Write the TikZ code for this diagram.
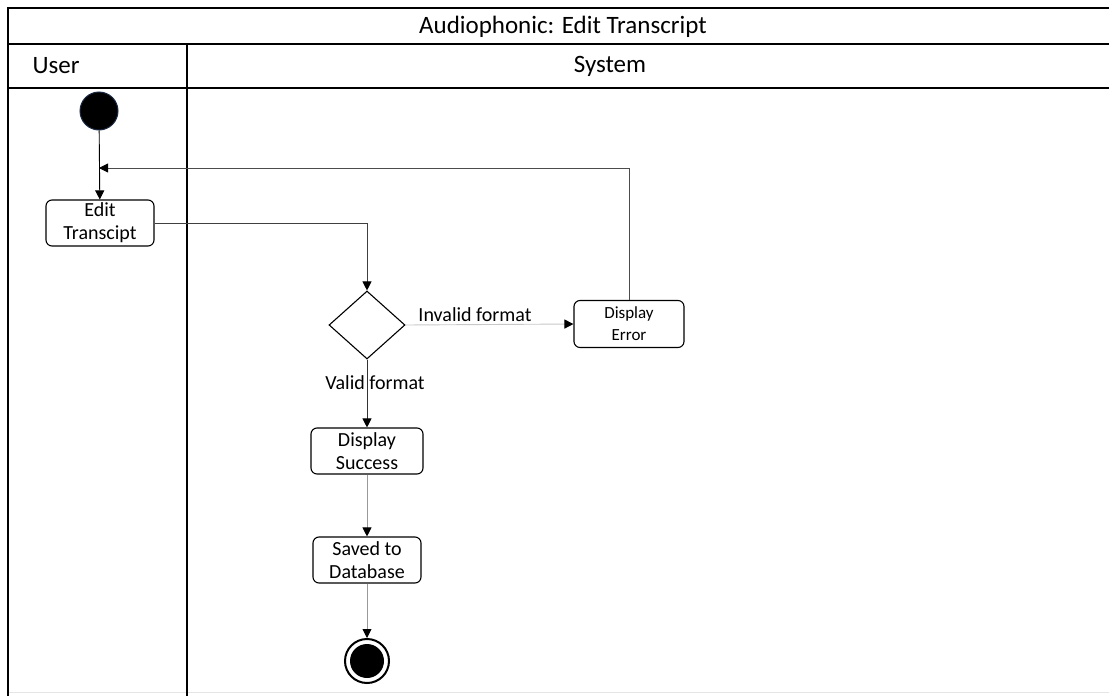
\documentclass[tikz,border=0pt]{standalone}
\usepackage{fontspec}
\setmainfont{Carlito}
\usetikzlibrary{arrows.meta,shapes.geometric}

\definecolor{startedge}{HTML}{1B2A44}

\tikzset{
  laneline/.style={line width=2.8pt, black},
  action/.style={draw, line width=1.1pt, rounded corners=6pt, align=center,
    inner sep=0pt, font=\fontsize{20}{23}\selectfont},
  decision/.style={draw, diamond, line width=1.1pt, minimum width=76pt,
    minimum height=68pt, inner sep=0pt},
  flow/.style={line width=0.9pt,
    -{Triangle[length=9pt,width=9pt,color=black]}},
  lbl/.style={font=\fontsize{20}{23}\selectfont, inner sep=0pt},
  hdr/.style={font=\fontsize{25}{28}\selectfont, inner sep=0pt},
}

\begin{document}
\begin{tikzpicture}[x=1pt, y=-1pt]
  \useasboundingbox (0,0) rectangle (1109,696);

  % swimlane frame
  \draw[black!10, line width=0.8pt] (8,692) -- (1112,692);
  \draw[laneline] (1112,8) -- (8,8) -- (8,696);
  \draw[laneline] (8,44) -- (1112,44);
  \draw[laneline] (8,88) -- (1112,88);
  \draw[laneline] (187,44) -- (187,696);

  % headers
  \node[hdr] (title) at (563,27) {Audiophonic: Edit Transcript};
  \node[hdr] (user) at (56,66) {User};
  \node[hdr] (system) at (610,66) {System};

  % activity nodes
  \node[circle, fill=black, draw=startedge, line width=1pt,
        minimum size=38pt, inner sep=0pt] (start) at (99,111) {};
  \node[action, minimum width=108pt, minimum height=46pt] (edit) at (100,223)
       {Edit\\Transcipt};
  \node[decision] (dec) at (367,325) {};
  \node[action, minimum width=110pt, minimum height=47pt,
        font=\fontsize{17}{22}\selectfont] (err) at (629,324) {Display\\Error};
  \node[action, minimum width=112pt, minimum height=46pt] (succ) at (367,451)
       {Display\\Success};
  \node[action, minimum width=108pt, minimum height=46pt] (saved) at (367,560)
       {Saved to\\Database};
  \node[circle, draw=black, fill=white, line width=2pt,
        minimum size=44pt, inner sep=0pt] (end) at (367,661) {};
  \fill[black] (end.center) circle (17pt);

  \coordinate (loop) at (99,168);

  % control flow
  \draw[flow, black] (start) -- (edit);
  \draw[flow, black!70] (err.north) |- (loop);
  \draw[flow, black!75] (edit.east) -| (dec.north);
  \draw[flow, black!22] (dec.east) -- (err.west);
  \node[lbl] (invalid) at (475,315) {Invalid format};
  \draw[flow, black!80] (dec.south) -- (succ.north);
  \node[lbl] (valid) at (375,383) {Valid format};
  \draw[flow, black!40] (succ.south) -- (saved.north);
  \draw[flow, black!40] (saved.south) -- (end.north);
\end{tikzpicture}
\end{document}
